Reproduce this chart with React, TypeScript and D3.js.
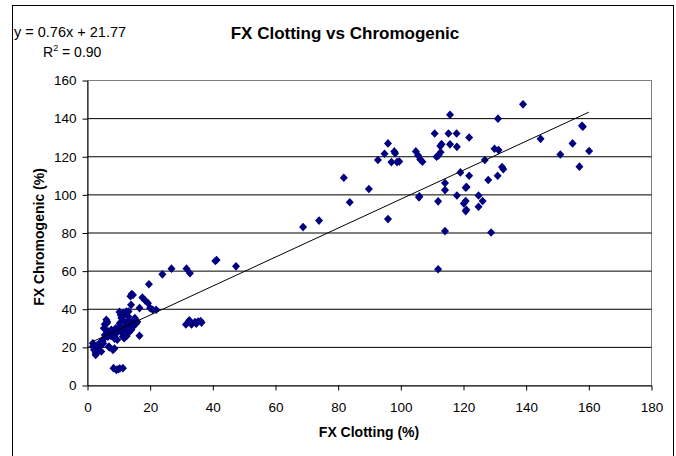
import React, { useRef, useEffect } from 'react';
import * as d3 from 'd3';

// FX clotting (%) vs FX chromogenic (%) pairs
const lowCluster: [number, number][] = [
  [14.1, 48], [13.7, 46.8], [14.5, 47.5], [17.5, 46.2], [18.4, 44.6], [19.3, 43.2],
  [20, 40.6], [20.8, 39.7], [21.9, 39.7], [16.6, 40.6], [13.9, 42.3], [16.6, 26.1],
  [6, 34.5], [5.5, 32.1], [5.2, 30], [6.3, 33.5], [1.7, 22.2], [2.2, 18.7], [2.6, 16],
  [3.8, 22.2], [4.9, 24], [6.5, 25.6], [7, 20], [8.1, 18.7],
  [10.2, 38.6], [11.4, 38], [12.4, 38.8], [13, 36.2], [10.8, 35.4], [10.3, 32.7],
  [13.5, 33.6], [11.9, 31], [10.8, 28.3], [9.3, 29.2], [8.2, 27.5], [11.4, 25.7],
  [13, 27.5], [14, 29.2], [14.6, 31], [15.6, 32.7], [15.1, 35.4],
  [1.7, 20.4], [2.1, 18.7], [2.6, 16.9], [3.4, 19.6], [4, 21.3], [4.8, 23.1], [4.4, 17.8],
  [5.8, 25.7], [6.8, 27.4], [7.6, 29.2], [9.2, 27.4], [10.6, 28.3], [12, 29.2],
  [11.3, 25.7], [11.7, 24.8], [13.4, 30.9], [14.1, 32.7], [14.8, 34.4], [15.9, 33.5],
  [12, 37.9], [13.1, 38.8], [10.6, 37], [11.3, 34.4], [6.2, 32.7], [8.6, 24.6],
  [6.8, 20.4], [8.6, 19.4], [3, 21], [2.5, 20], [3.2, 17.5], [5, 22], [5.5, 26.5],
  [6.5, 28.5], [7.5, 26], [9, 30], [10, 31], [12.5, 33], [11, 36], [9.5, 24], [12.5, 26],
  [8.3, 9.1], [9.2, 8.2], [10.3, 8.9], [11.3, 9.1], [9.8, 8.5],
];

const midPoints: [number, number][] = [
  [40.8, 65.3], [41.2, 65.8], [47.4, 62.5], [31.6, 61.3], [32.7, 58.9], [26.8, 61.3],
  [23.9, 58.3], [19.6, 53.1], [31.4, 32], [32.5, 34.2], [33.2, 32], [34.3, 33.3],
  [35.3, 33.6], [36.1, 33.8], [34.7, 32.4], [36.4, 33],
];

const highCluster: [number, number][] = [
  [139, 147.5], [115.7, 142], [131, 140], [110.8, 132.2], [115.2, 132.2], [117.8, 132.2],
  [121.8, 130.1], [144.6, 129.4], [158.1, 135.7], [157.8, 136.3], [95.9, 127], [113, 126.6],
  [112.6, 125.6], [115.7, 126.5], [117.9, 125.2], [154.8, 127], [129.9, 124.2], [131.2, 123.5],
  [160.1, 123], [104.8, 122.8], [97.9, 122.8], [112.7, 122.4], [112, 120.7], [111.4, 120],
  [94.8, 121.6], [105.5, 120.7], [98.2, 121.8], [92.7, 118.3], [150.9, 121.2], [126.8, 118.3],
  [106.9, 117.4], [106.2, 118.6], [97, 117.2], [98.8, 117.2], [99.5, 117.5], [157, 114.8],
  [132.7, 113.5], [132.3, 114.6], [119, 111.8], [121.8, 110], [130.9, 110], [127.9, 107.8],
  [81.8, 109], [114.1, 106.2], [120.7, 103.8], [121, 104.1], [114.1, 102.5], [89.8, 103.1],
  [105.8, 98.7], [105.9, 99.3], [117.9, 99.7], [124.8, 99.7], [111.9, 96.6], [120.7, 96.8],
  [120.1, 95.5], [126.1, 96.8], [83.7, 96.1], [124.8, 93.8], [120.7, 91.5], [120.9, 92.2],
  [95.9, 87.3], [73.9, 86.5], [68.8, 83.1], [114.1, 81], [128.8, 80.3], [111.9, 61],
];

const xTicks = [0, 20, 40, 60, 80, 100, 120, 140, 160, 180];
const yTicks = [0, 20, 40, 60, 80, 100, 120, 140, 160];
const gridValues = [20, 40, 60, 80, 100, 120, 140];

// linear fit shown on the chart
const slope = 0.76;
const intercept = 21.77;
const fitFrom = 1.7;
const fitTo = 160;

const FONT = "Arial, 'Liberation Sans', sans-serif";

const App = () => {
  const svgRef = useRef<SVGSVGElement>(null);

  useEffect(() => {
    const width = 676;
    const height = 456;
    const left = 87.5, right = 651.5, top = 80.5, bottom = 385.5;

    const svg = d3.select(svgRef.current)
      .attr('width', width)
      .attr('height', height)
      .style('background', 'white');
    svg.selectAll('*').remove();

    const x = d3.scaleLinear().domain([0, 180]).range([left, right]);
    const y = d3.scaleLinear().domain([0, 160]).range([bottom, top]);

    // outer chart frame
    svg.append('rect')
      .attr('x', 12.5).attr('y', 5.5)
      .attr('width', 661).attr('height', 470)
      .attr('fill', 'none').attr('stroke', 'black');

    // plot area frame (grey)
    svg.append('rect')
      .attr('x', left).attr('y', top)
      .attr('width', right - left).attr('height', bottom - top)
      .attr('fill', 'none').attr('stroke', '#808080');

    // horizontal gridlines
    svg.append('g')
      .selectAll('line')
      .data(gridValues)
      .join('line')
      .attr('x1', left).attr('x2', right)
      .attr('y1', d => y(d)).attr('y2', d => y(d))
      .attr('stroke', 'black');

    const yAxis = svg.append('g')
      .attr('transform', `translate(${left},0)`)
      .call(d3.axisLeft(y).tickValues(yTicks).tickSize(5).tickSizeOuter(0).tickPadding(6));
    yAxis.selectAll('text')
      .attr('fill', 'black')
      .style('font-size', '13.5px')
      .style('font-family', FONT);

    const xAxis = svg.append('g')
      .attr('transform', `translate(0,${bottom})`)
      .call(d3.axisBottom(x).tickValues(xTicks).tickSize(5).tickSizeOuter(0).tickPadding(12));
    xAxis.selectAll('text')
      .attr('fill', 'black')
      .style('font-size', '13.5px')
      .style('font-family', FONT);

    // data points
    const diamond = (cx: number, cy: number) =>
      `M${cx},${cy - 4.3}L${cx + 4},${cy}L${cx},${cy + 4.3}L${cx - 4},${cy}Z`;
    const allPoints = [...lowCluster, ...midPoints, ...highCluster];
    svg.append('g')
      .selectAll('path')
      .data(allPoints)
      .join('path')
      .attr('d', d => diamond(x(d[0]), y(d[1])))
      .attr('fill', '#000080');

    // trend line
    const line = d3.line<number>()
      .x(d => x(d))
      .y(d => y(slope * d + intercept));
    svg.append('path')
      .datum([fitFrom, fitTo])
      .attr('fill', 'none')
      .attr('stroke', 'black')
      .attr('stroke-width', 1)
      .attr('d', line);

    // title
    svg.append('text')
      .attr('x', 345).attr('y', 39)
      .attr('text-anchor', 'middle')
      .attr('font-weight', 'bold')
      .style('font-size', '17px')
      .style('font-family', FONT)
      .text('FX Clotting vs Chromogenic');

    // equation
    svg.append('text')
      .attr('x', 14).attr('y', 37)
      .style('font-size', '14.5px')
      .style('font-family', FONT)
      .text(`y = ${slope}x + ${intercept}`);

    const r2 = svg.append('text')
      .attr('x', 43).attr('y', 57)
      .style('font-size', '14px')
      .style('font-family', FONT);
    r2.append('tspan').text('R');
    r2.append('tspan').attr('dy', -6).style('font-size', '9px').text('2');
    r2.append('tspan').attr('dy', 6).text(' = 0.90');

    // axis titles
    svg.append('text')
      .attr('x', 369).attr('y', 437)
      .attr('text-anchor', 'middle')
      .attr('font-weight', 'bold')
      .style('font-size', '14px')
      .style('font-family', FONT)
      .text('FX Clotting (%)');

    svg.append('text')
      .attr('transform', 'translate(44,237) rotate(-90)')
      .attr('text-anchor', 'middle')
      .attr('font-weight', 'bold')
      .style('font-size', '14px')
      .style('font-family', FONT)
      .text('FX Chromogenic (%)');
  }, []);

  return (
    <div style={{ position: 'absolute', left: 0, top: 0, width: 676, height: 456, background: 'white' }}>
      <svg ref={svgRef} style={{ display: 'block' }}></svg>
    </div>
  );
};

export default App;
